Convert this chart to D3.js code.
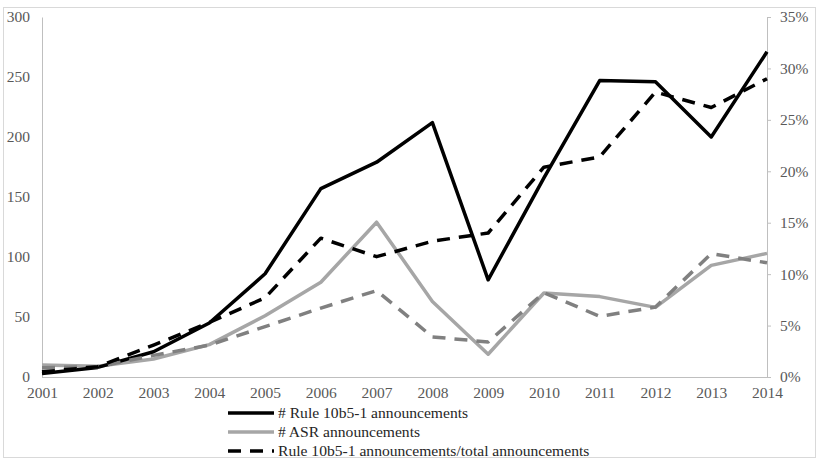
<!DOCTYPE html>
<html>
<head>
<meta charset="utf-8">
<script src="https://cdn.jsdelivr.net/npm/d3@7"></script>
<style>
  body { margin: 0; background: #fff; }
  svg { display: block; }
</style>
</head>
<body>
<svg id="chart" width="820" height="462"></svg>
<script>
var years = [2001, 2002, 2003, 2004, 2005, 2006, 2007, 2008, 2009, 2010, 2011, 2012, 2013, 2014];
var ruleCount = [3, 8, 21, 45, 86, 157, 179, 212, 81, 166, 247, 246, 200, 271];
var asrCount = [10, 9, 15, 27, 51, 79, 129, 63, 19, 70, 67, 58, 93, 103];
var ruleShare = [0.005, 0.010, 0.031, 0.053, 0.077, 0.135, 0.117, 0.132, 0.140, 0.204, 0.214, 0.277, 0.262, 0.290];
var asrShare = [0.009, 0.010, 0.021, 0.031, 0.049, 0.067, 0.084, 0.039, 0.034, 0.082, 0.059, 0.068, 0.120, 0.111];
var leftTicks = [0, 50, 100, 150, 200, 250, 300];
var rightTicks = [0, 0.05, 0.10, 0.15, 0.20, 0.25, 0.30, 0.35];
var legendLabels = ["# Rule 10b5-1 announcements", "# ASR announcements", "Rule 10b5-1 announcements/total announcements"];

var svg = d3.select("#chart");
var font = "'Liberation Serif', 'Times New Roman', serif";

// outer frame
svg.append("rect")
    .attr("x", 3.5).attr("y", 7.5)
    .attr("width", 812).attr("height", 450)
    .attr("fill", "none")
    .attr("stroke", "#d9d9d9");

var x = d3.scalePoint().domain(years).range([42, 767]);
var yLeft = d3.scaleLinear().domain([0, 300]).range([377, 17]);
var yRight = d3.scaleLinear().domain([0, 0.35]).range([377, 17]);

// left axis
var gl = svg.append("g")
    .attr("transform", "translate(42,0)")
    .call(d3.axisLeft(yLeft).tickValues(leftTicks).tickSize(0).tickPadding(12));

// right axis
var gr = svg.append("g")
    .attr("transform", "translate(767,0)")
    .call(d3.axisRight(yRight).tickValues(rightTicks).tickSize(4).tickPadding(9)
        .tickFormat(d3.format(".0%")));

// bottom axis
var gb = svg.append("g")
    .attr("transform", "translate(0,377)")
    .call(d3.axisBottom(x).tickSize(0).tickPadding(10).tickFormat(d3.format("d")));

[gl, gr, gb].forEach(function (g) {
    g.select(".domain").attr("stroke", "#bfbfbf").attr("stroke-width", 1);
    g.selectAll(".tick line").attr("stroke", "#bfbfbf");
    g.selectAll(".tick text")
        .attr("fill", "#595959")
        .style("font-family", font)
        .style("font-size", "15.5px");
});
gb.select(".domain").attr("d", "M42,0.5H767");

var lineLeft = d3.line().x(function (d, i) { return x(years[i]); }).y(function (d) { return yLeft(d); });
var lineRight = d3.line().x(function (d, i) { return x(years[i]); }).y(function (d) { return yRight(d); });

var series = [
    { data: asrCount, line: lineLeft, color: "#a6a6a6", dash: null },
    { data: ruleCount, line: lineLeft, color: "#000000", dash: null },
    { data: asrShare, line: lineRight, color: "#808080", dash: "13,9" },
    { data: ruleShare, line: lineRight, color: "#000000", dash: "13,9" }
];

series.forEach(function (s) {
    svg.append("path")
        .datum(s.data)
        .attr("d", s.line)
        .attr("fill", "none")
        .attr("stroke", s.color)
        .attr("stroke-width", 3.5)
        .attr("stroke-linejoin", "round")
        .attr("stroke-dasharray", s.dash);
});

// legend
var legendStyles = [
    { color: "#000000", dash: null },
    { color: "#a6a6a6", dash: null },
    { color: "#000000", dash: "13,9" }
];
var legend = svg.append("g").attr("transform", "translate(228,0)");
legendLabels.forEach(function (label, i) {
    var yy = 413 + i * 19;
    legend.append("line")
        .attr("x1", 0).attr("x2", 46)
        .attr("y1", yy).attr("y2", yy)
        .attr("stroke", legendStyles[i].color)
        .attr("stroke-width", 3.5)
        .attr("stroke-dasharray", legendStyles[i].dash);
    legend.append("text")
        .attr("x", 50).attr("y", yy + 5)
        .attr("fill", "#262626")
        .style("font-family", font)
        .style("font-size", "15.6px")
        .text(label);
});
</script>
</body>
</html>
